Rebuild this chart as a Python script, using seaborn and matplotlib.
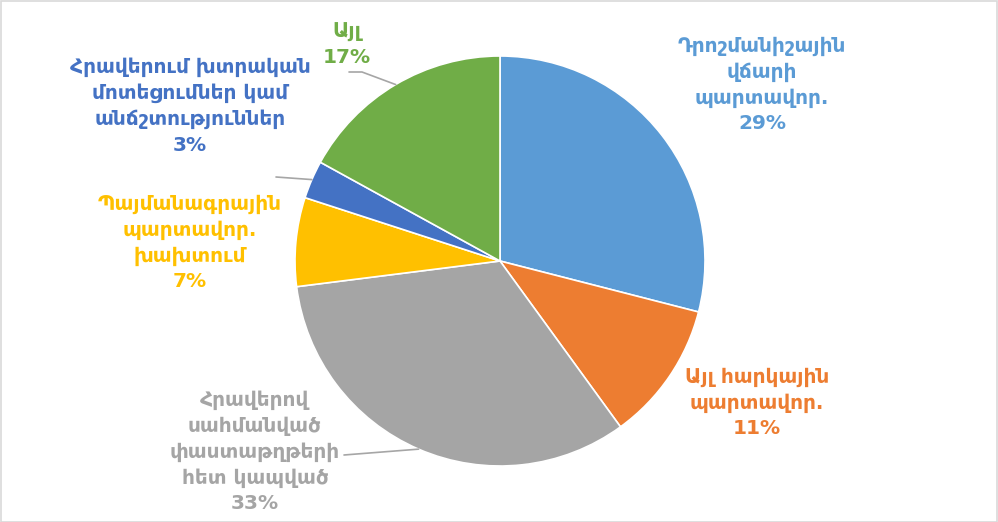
import matplotlib
matplotlib.use("Agg")
import matplotlib.pyplot as plt
import numpy as np
import seaborn as sns
from matplotlib.patches import Rectangle

sns.set_theme(style="white")
plt.rcParams['font.family'] = ['DejaVu Sans']

categories = [
    "Դրոշմանիշային\nվճարի\nպարտավոր.",
    "Այլ հարկային\nպարտավոր.",
    "Հրավերով\nսահմանված\nփաստաթղթերի\nհետ կապված",
    "Պայմանագրային\nպարտավոր.\nխախտում",
    "Հրավերում խտրական\nմոտեցումներ կամ\nանճշտություններ",
    "Այլ",
]
values = [29, 11, 33, 7, 3, 17]
colors = ["#5B9BD5", "#ED7D31", "#A5A5A5", "#FFC000", "#4472C4", "#70AD47"]
label_colors = ["#5B9BD5", "#ED7D31", "#A5A5A5", "#FFC000", "#4472C4", "#70AD47"]

W, H = 998, 522
fig = plt.figure(figsize=(W / 100, H / 100), dpi=100)
ax = fig.add_axes([0, 0, 1, 1])

cx, cy, R = 500, H - 261, 205
wedges, _ = ax.pie(values, radius=R, center=(cx, cy), startangle=90, counterclock=False,
                   colors=colors, wedgeprops=dict(edgecolor="white", linewidth=1.2),
                   frame=True)
ax.set_xlim(0, W)
ax.set_ylim(0, H)
ax.set_aspect("equal")
ax.axis("off")

# label positions (pixel coords, top-origin) and leader start points
label_pos = [(762, 85), (757, 403), (255, 452), (190, 243), (190, 106), (347, 45)]
leaders = [None, None, (344, 455), None, (276, 177), (349, 72)]

for w, lab, v, col, (lx, ly), lead in zip(wedges, categories, values, label_colors, label_pos, leaders):
    ax.text(lx, H - ly, f"{lab}\n{v}%", color=col, ha="center", va="center",
            fontsize=14.5, fontweight="semibold", linespacing=1.42)
    if lead is not None:
        ang = np.deg2rad((w.theta1 + w.theta2) / 2)
        ex, ey = cx + R * np.cos(ang), cy + R * np.sin(ang)
        sx, sy = lead[0], H - lead[1]
        if lab == "Այլ":
            ax.plot([sx, sx + 13, ex], [sy, sy, ey], color="#A6A6A6", lw=1.2)
        else:
            ax.plot([sx, ex], [sy, ey], color="#A6A6A6", lw=1.2)

fig.patches.append(Rectangle((0.5 / W, 0.5 / H), 1 - 1.5 / W, 1 - 1.5 / H, transform=fig.transFigure,
                             fill=False, edgecolor="#D9D9D9", linewidth=1.2))
fig.savefig("out.png", dpi=100, facecolor="white")
